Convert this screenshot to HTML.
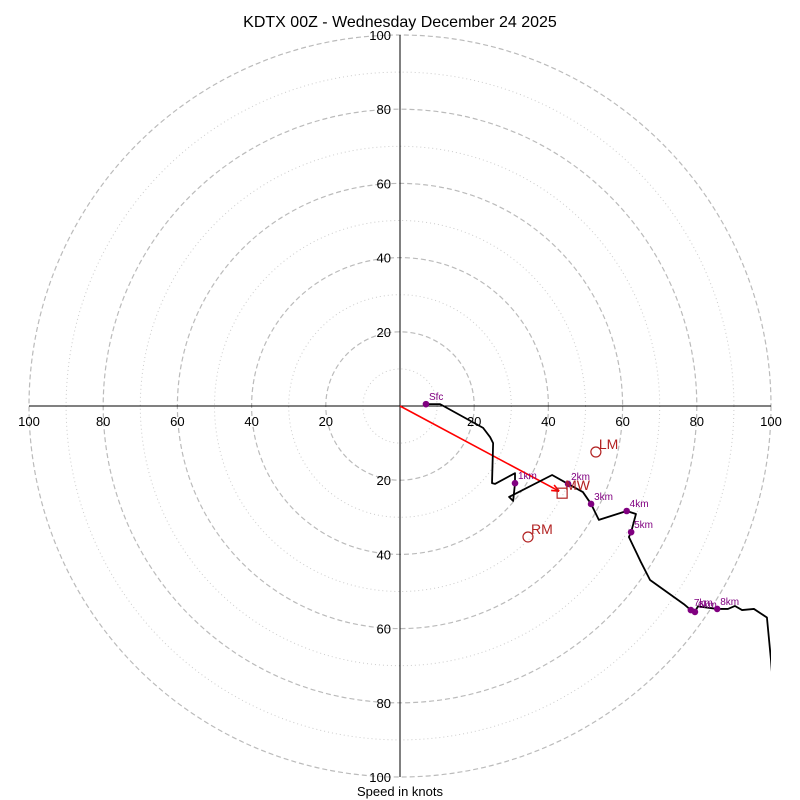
<!DOCTYPE html>
<html><head><meta charset="utf-8"><style>
body{margin:0;background:#fff}
svg{display:block;font-family:"Liberation Sans","DejaVu Sans",sans-serif}
</style></head><body>
<svg id="chart" width="800" height="800" viewBox="0 0 800 800">
<text x="400" y="27" text-anchor="middle" font-size="16">KDTX 00Z - Wednesday December 24 2025</text>
<text x="400" y="796" text-anchor="middle" font-size="13">Speed in knots</text>
<defs><clipPath id="clip"><rect x="29" y="35" width="742" height="742"/></clipPath></defs>
<g id="rings"></g><g id="axes"></g><g id="plot" clip-path="url(#clip)"></g><g id="labels"></g>
</svg>
<script>
const ringValues=[10,20,30,40,50,60,70,80,90,100];
const tickValues=[20,40,60,80,100];
const traceU=[7.0,10.8,22.4,24.3,25.1,24.8,25.6,31.0,31.0,30.5,29.4,31.0,41.0,45.3,49.3,51.5,53.6,61.1,63.6,62.3,61.7,64.9,67.4,76.5,78.4,79.5,80.3,85.5,88.4,90.3,92.2,95.4,98.9,100,100.5];
const traceV=[0.5,0.5,-5.9,-8.4,-10.0,-20.8,-21.0,-18.1,-20.8,-25.6,-24.5,-23.7,-18.6,-21.0,-23.2,-26.4,-30.7,-28.3,-29.1,-34.0,-35.3,-42.0,-46.9,-53.4,-55.0,-55.5,-54.0,-54.7,-54.7,-53.9,-55.0,-54.7,-57.0,-68.5,-75];
const markerNames=["Sfc","1km","2km","3km","4km","5km","6km","7km","8km"];
const markerU=[7.0,31.0,45.3,51.5,61.1,62.3,79.5,78.4,85.5];
const markerV=[0.5,-20.8,-21.0,-26.4,-28.3,-34.0,-55.5,-55.0,-54.7];
const stormNames=["LM","MW","RM"];
const stormU=[52.8,43.7,34.5];
const stormV=[-12.4,-23.5,-35.3];
const cx=400,cy=406,sc=3.71;
const X=u=>cx+u*sc, Y=v=>cy-v*sc;
const NS="http://www.w3.org/2000/svg";
function mk(p,t,a){const e=document.createElementNS(NS,t);for(const k in a)e.setAttribute(k,a[k]);p.appendChild(e);return e;}
const rings=document.getElementById('rings'),axes=document.getElementById('axes'),plot=document.getElementById('plot'),labels=document.getElementById('labels');
ringValues.forEach(r=>{const dashed=r%20===0;
 const c=mk(rings,'circle',{cx:cx,cy:cy,r:r*sc,fill:'none',stroke:dashed?'#bbb':'#ccc','stroke-width':dashed?1.2:1,'stroke-dasharray':dashed?'5,3':'1,3'});
 
 });
let l=mk(axes,'line',{x1:X(-100),y1:cy,x2:X(100),y2:cy,stroke:'#000','stroke-width':1});


l=mk(axes,'line',{x1:cx,y1:Y(100),x2:cx,y2:Y(-100),stroke:'#000','stroke-width':1});


tickValues.forEach(t=>{[-1,1].forEach(s=>{
 let tx=mk(axes,'text',{x:X(s*t),y:cy+20,'text-anchor':'middle','font-size':13});tx.textContent=t;
 
 
 tx=mk(axes,'text',{x:cx-9,y:Y(s*t)+5,'text-anchor':'end','font-size':13});tx.textContent=t;
 
 });});
const arrow=mk(plot,'line',{x1:X(0),y1:Y(0),x2:X(stormU[1])-3,y2:Y(stormV[1])-2,stroke:'red','stroke-width':1.6});


const ang=Math.atan2(Y(stormV[1])-Y(0),X(stormU[1])-X(0));const hx=X(stormU[1])-3,hy=Y(stormV[1])-2;
const head=mk(plot,'path',{d:`M${hx},${hy} L${hx-8*Math.cos(ang-0.4)},${hy-8*Math.sin(ang-0.4)} M${hx},${hy} L${hx-8*Math.cos(ang+0.4)},${hy-8*Math.sin(ang+0.4)}`,stroke:'red','stroke-width':1.6,fill:'none'});


const tr=mk(plot,'polyline',{points:traceU.map((u,i)=>X(u)+','+Y(traceV[i])).join(' '),fill:'none',stroke:'#000','stroke-width':1.8,'stroke-linejoin':'round'});


markerNames.forEach((n,i)=>{
 const d=mk(plot,'circle',{cx:X(markerU[i]),cy:Y(markerV[i]),r:3.3,fill:'purple'});
 
 
 const t=mk(labels,'text',{x:X(markerU[i])+3,y:Y(markerV[i])-4,'font-size':10,fill:'purple'});t.textContent=n;
 
 });
stormNames.forEach((n,i)=>{const x=X(stormU[i]),y=Y(stormV[i]);let s;
 if(n==='MW')s=mk(plot,'rect',{x:x-5,y:y-5,width:10,height:10,fill:'none',stroke:'#b22222','stroke-width':1.2});
 else s=mk(plot,'circle',{cx:x,cy:y,r:5,fill:'none',stroke:'#b22222','stroke-width':1.2});
 
 
 const t=mk(labels,'text',{x:x+3,y:y-3,'font-size':14,fill:'#b22222'});t.textContent=n;
 
 });
</script>
</body></html>
